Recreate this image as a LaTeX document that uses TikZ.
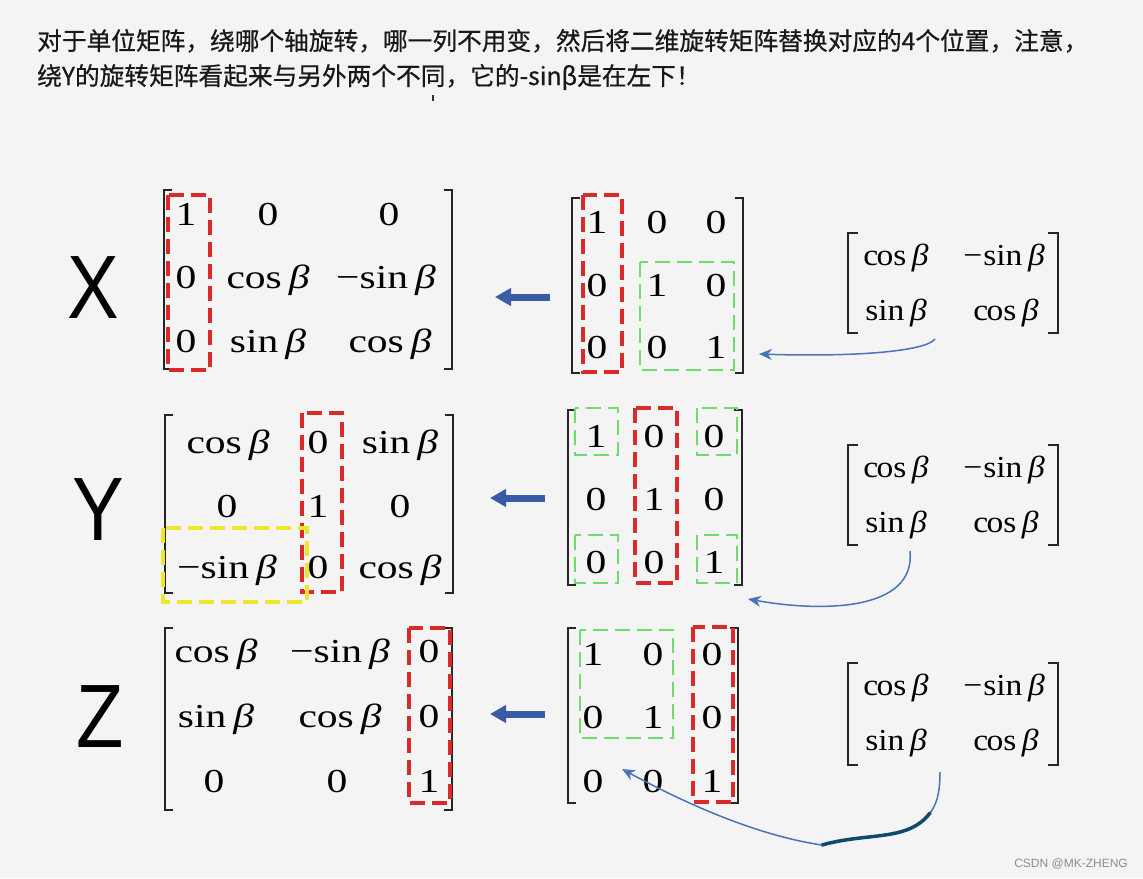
\documentclass[tikz,border=0pt]{standalone}
\usepackage{fontspec}
\setmainfont{Liberation Serif}
\newfontfamily\cjk[FakeBold=0.6]{Noto Sans CJK SC}
\newfontfamily\arialf{Liberation Sans}
\usetikzlibrary{arrows.meta}
\definecolor{bgc}{HTML}{F4F4F4}
\definecolor{redd}{HTML}{DA2A2A}
\definecolor{grnd}{HTML}{6EDD6E}
\definecolor{ylwd}{HTML}{EEE62A}
\definecolor{bluea}{HTML}{3A5BA6}
\definecolor{bluec}{HTML}{4A74BA}
\definecolor{navyd}{HTML}{0C4A6E}
\newcommand{\bt}{{\itshape β}}
\newcommand{\mx}[1]{\scalebox{1.24}[1]{#1}}
\newcommand{\my}[1]{\scalebox{1.1}[1]{#1}}
\newcommand{\cs}{c\kern-1.5pt os}
\newcommand{\axs}[1]{\scalebox{0.86}[1]{#1}}
\tikzset{
  ent/.style={anchor=base,inner sep=0pt,font=\fontsize{33.5}{36}\selectfont},
  rent/.style={anchor=base,inner sep=0pt,font=\fontsize{30.5}{34}\selectfont},
  axislbl/.style={inner sep=0pt,font=\arialf\fontsize{90}{90}\selectfont},
  brk/.style={line width=1.6pt,black!85},
  reddash/.style={draw=redd,line width=3.2pt,dash pattern=on 15pt off 7pt},
  grndash/.style={draw=grnd,line width=2.8pt,dash pattern=on 15pt off 7pt},
  ylwdash/.style={draw=ylwd,line width=3.2pt,dash pattern=on 15pt off 7pt},
  bigarrow/.style={draw=bluea,line width=7pt,-{Triangle[length=16pt,width=17pt]}},
  thinarrow/.style={draw=bluec,line width=1.5pt,-{Stealth[length=13pt,width=11pt]}},
  thinline/.style={draw=bluec,line width=1.5pt},
  topline/.style={anchor=base west,inner sep=0pt,font=\cjk\fontsize{24.7}{28}\selectfont,text=black!90}
}
\begin{document}
\begin{tikzpicture}[x=1pt,y=-1pt]
\useasboundingbox (0,0) rectangle (1143,878);
\fill[bgc] (0,0) rectangle (1143,878);

% top text
\node[topline] (t1) at (37,50) {对于单位矩阵，绕哪个轴旋转，哪一列不用变，然后将二维旋转矩阵替换对应的4个位置，注意，};
\node[topline] (t2) at (37,85) {绕Y的旋转矩阵看起来与另外两个不同，它的-sinβ是在左下！};
\draw[line width=2pt,black!80] (433,95) -- (433,101);

% axis letters
\node[axislbl] (lx) at (93,288) {\axs{X}};
\node[axislbl] (ly) at (98,510) {\axs{Y}};
\node[axislbl] (lz) at (100,717) {\axs{Z}};

% ============ Row X ============
\draw[brk] (172,190) -- (164,190) -- (164,369) -- (172,369);
\draw[brk] (444,190) -- (452,190) -- (452,369) -- (444,369);
\node[ent] (xa11) at (186,225) {\mx{1}};
\node[ent] (xa12) at (268,225) {\mx{0}};
\node[ent] (xa13) at (389,225) {\mx{0}};
\node[ent] (xa21) at (186,288) {\mx{0}};
\node[ent] (xa22) at (268,288) {\mx{cos\,\bt}};
\node[ent] (xa23) at (386,288) {\mx{−sin\,\bt}};
\node[ent] (xa31) at (186,352) {\mx{0}};
\node[ent] (xa32) at (268,352) {\mx{sin\,\bt}};
\node[ent] (xa33) at (390,352) {\mx{cos\,\bt}};
\draw[reddash] (168,195) rectangle (210,370);
\draw[brk] (580,198) -- (572,198) -- (572,373) -- (580,373);
\draw[brk] (735,198) -- (743,198) -- (743,373) -- (735,373);
\node[ent] (xb11) at (597,233) {\mx{1}};
\node[ent] (xb12) at (657,233) {\mx{0}};
\node[ent] (xb13) at (716,233) {\mx{0}};
\node[ent] (xb21) at (597,296) {\mx{0}};
\node[ent] (xb22) at (657,296) {\mx{1}};
\node[ent] (xb23) at (716,296) {\mx{0}};
\node[ent] (xb31) at (597,358) {\mx{0}};
\node[ent] (xb32) at (657,358) {\mx{0}};
\node[ent] (xb33) at (716,358) {\mx{1}};
\draw[reddash] (583,195) rectangle (622,372);
\draw[grndash] (640,262) rectangle (734,370);
\draw[brk] (858,233) -- (848,233) -- (848,333) -- (858,333);
\draw[brk] (1048,233) -- (1058,233) -- (1058,333) -- (1048,333);
\node[rent] (xc11) at (896,265) {\my{\cs\,\bt}};
\node[rent] (xc12) at (1004,265) {\my{−\kern1pt sin\,\bt}};
\node[rent] (xc21) at (896,320) {\my{sin\,\bt}};
\node[rent] (xc22) at (1006,320) {\my{\cs\,\bt}};
\coordinate (xs) at (550,297);
\coordinate (xe) at (495,297);
\draw[bigarrow] (xs) -- (xe);
\coordinate (xcs) at (935,339);
\coordinate (xce) at (759,354);
\draw[thinarrow] (xcs) .. controls (925,352) and (850,357) .. (xce);

% ============ Row Y ============
\draw[brk] (173,415) -- (165,415) -- (165,593) -- (173,593);
\draw[brk] (445,415) -- (453,415) -- (453,593) -- (445,593);
\node[ent] (ya11) at (228,453) {\mx{cos\,\bt}};
\node[ent] (ya12) at (318,453) {\mx{0}};
\node[ent] (ya13) at (400,453) {\mx{sin\,\bt}};
\node[ent] (ya21) at (227,517) {\mx{0}};
\node[ent] (ya22) at (318,517) {\mx{1}};
\node[ent] (ya23) at (400,517) {\mx{0}};
\node[ent] (ya31) at (227,578) {\mx{−sin\,\bt}};
\node[ent] (ya32) at (318,578) {\mx{0}};
\node[ent] (ya33) at (400,578) {\mx{cos\,\bt}};
\draw[reddash] (302,413) rectangle (342,592);
\draw[ylwdash] (163,528) rectangle (307,602);
\draw[brk] (576,410) -- (568,410) -- (568,585) -- (576,585);
\draw[brk] (734,410) -- (742,410) -- (742,585) -- (734,585);
\node[ent] (yb11) at (596,447) {\mx{1}};
\node[ent] (yb12) at (654,447) {\mx{0}};
\node[ent] (yb13) at (714,447) {\mx{0}};
\node[ent] (yb21) at (596,510) {\mx{0}};
\node[ent] (yb22) at (654,510) {\mx{1}};
\node[ent] (yb23) at (714,510) {\mx{0}};
\node[ent] (yb31) at (596,573) {\mx{0}};
\node[ent] (yb32) at (654,573) {\mx{0}};
\node[ent] (yb33) at (714,573) {\mx{1}};
\draw[grndash] (575,408) rectangle (618,455);
\draw[grndash] (697,408) rectangle (737,455);
\draw[grndash] (575,535) rectangle (618,583);
\draw[grndash] (697,535) rectangle (737,583);
\draw[reddash] (635,408) rectangle (677,583);
\draw[brk] (858,445) -- (848,445) -- (848,545) -- (858,545);
\draw[brk] (1048,445) -- (1058,445) -- (1058,545) -- (1048,545);
\node[rent] (yc11) at (896,477) {\my{\cs\,\bt}};
\node[rent] (yc12) at (1004,477) {\my{−\kern1pt sin\,\bt}};
\node[rent] (yc21) at (896,532) {\my{sin\,\bt}};
\node[rent] (yc22) at (1006,532) {\my{\cs\,\bt}};
\coordinate (ys) at (545,498);
\coordinate (ye) at (490,498);
\draw[bigarrow] (ys) -- (ye);
\coordinate (ycs) at (910,551);
\coordinate (yce) at (748,599);
\draw[thinarrow] (ycs) .. controls (916,612) and (820,612) .. (yce);

% ============ Row Z ============
\draw[brk] (173,628) -- (165,628) -- (165,810) -- (173,810);
\draw[brk] (444,628) -- (452,628) -- (452,810) -- (444,810);
\node[ent] (za11) at (216,662) {\mx{cos\,\bt}};
\node[ent] (za12) at (340,662) {\mx{−sin\,\bt}};
\node[ent] (za13) at (429,662) {\mx{0}};
\node[ent] (za21) at (216,727) {\mx{sin\,\bt}};
\node[ent] (za22) at (340,727) {\mx{cos\,\bt}};
\node[ent] (za23) at (429,727) {\mx{0}};
\node[ent] (za31) at (214,792) {\mx{0}};
\node[ent] (za32) at (337,792) {\mx{0}};
\node[ent] (za33) at (429,792) {\mx{1}};
\draw[reddash] (409,628) rectangle (450,803);
\draw[brk] (576,628) -- (568,628) -- (568,803) -- (576,803);
\draw[brk] (730,628) -- (738,628) -- (738,803) -- (730,803);
\node[ent] (zb11) at (593,665) {\mx{1}};
\node[ent] (zb12) at (653,665) {\mx{0}};
\node[ent] (zb13) at (712,665) {\mx{0}};
\node[ent] (zb21) at (593,728) {\mx{0}};
\node[ent] (zb22) at (653,728) {\mx{1}};
\node[ent] (zb23) at (712,728) {\mx{0}};
\node[ent] (zb31) at (593,792) {\mx{0}};
\node[ent] (zb32) at (653,792) {\mx{0}};
\node[ent] (zb33) at (712,792) {\mx{1}};
\draw[grndash] (580,630) rectangle (673,738);
\draw[reddash] (693,627) rectangle (733,802);
\draw[brk] (858,663) -- (848,663) -- (848,765) -- (858,765);
\draw[brk] (1048,663) -- (1058,663) -- (1058,765) -- (1048,765);
\node[rent] (zc11) at (896,695) {\my{\cs\,\bt}};
\node[rent] (zc12) at (1004,695) {\my{−\kern1pt sin\,\bt}};
\node[rent] (zc21) at (896,750) {\my{sin\,\bt}};
\node[rent] (zc22) at (1006,750) {\my{\cs\,\bt}};
\coordinate (zs) at (545,714);
\coordinate (ze) at (490,714);
\draw[bigarrow] (zs) -- (ze);
\coordinate (zcs) at (940,772);
\coordinate (zm1) at (930,813);
\coordinate (zm2) at (822,845);
\coordinate (zce) at (622,769);
\draw[thinline] (zcs) .. controls (940,795) and (936,805) .. (zm1);
\draw[draw=navyd,line width=3.5pt,line cap=round] (zm1) .. controls (908,842) and (868,832) .. (zm2);
\draw[thinarrow] (zm2) .. controls (760,836) and (690,806) .. (zce);

\node[anchor=base east,inner sep=0pt,font=\arialf\fontsize{12}{14}\selectfont,text=black!45] (wm) at (1128,867) {CSDN @MK-ZHENG};
\end{tikzpicture}
\end{document}
